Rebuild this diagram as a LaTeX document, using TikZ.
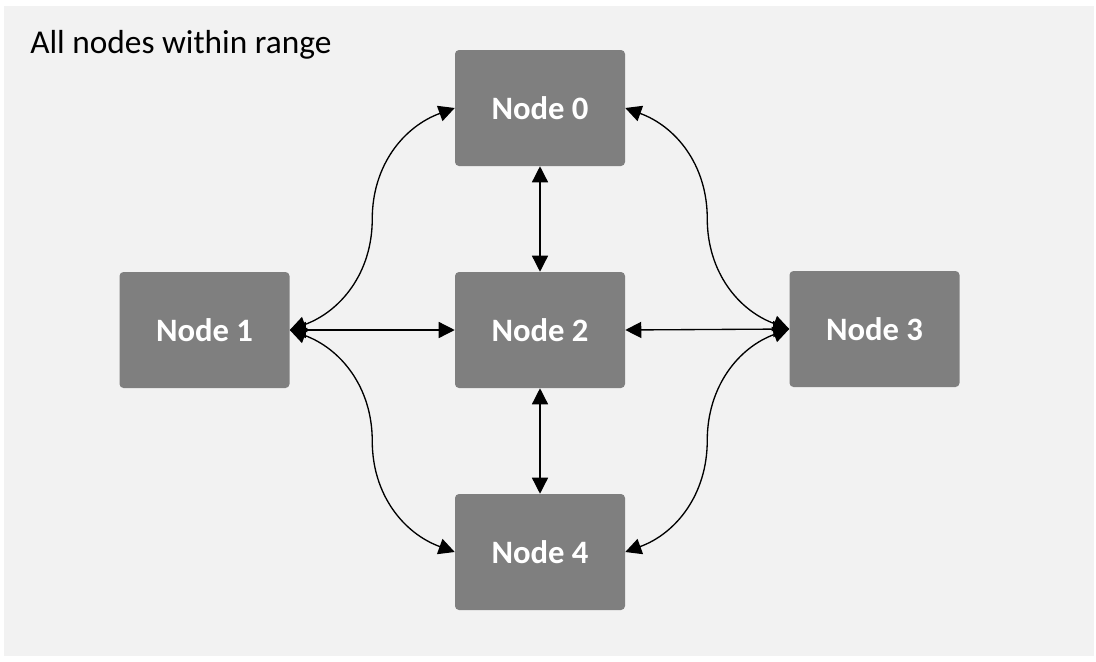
\documentclass[tikz,border=0pt]{standalone}
\usepackage{fontspec}
\setmainfont{Carlito}
\usepackage{xcolor}
\usetikzlibrary{arrows.meta,calc}

\definecolor{bggray}{HTML}{F2F2F2}
\definecolor{nodegray}{HTML}{7F7F7F}

\tikzset{
  netnode/.style={fill=nodegray, rounded corners=3pt, minimum width=127.5pt,
    minimum height=87pt, text=white, font=\fontsize{24.5}{29}\selectfont\bfseries},
  link/.style={line width=1pt,
    {Triangle[length=12pt,width=12pt]}-{Triangle[length=12pt,width=12pt]}},
}

\begin{document}
\begin{tikzpicture}[x=0.75pt, y=-0.75pt]
    \useasboundingbox (0,0) rectangle (1096,661);
    \fill[bggray] (4,6) rectangle (1094,656);

    \node [anchor=base west, inner sep=0pt, font=\fontsize{25}{30}\selectfont] (title) at (30,53) {All nodes within range};

    \node [netnode] (n0) at (540,108) {Node 0};
    \node [netnode] (n1) at (204.5,330) {Node 1};
    \node [netnode] (n2) at (540,330) {Node 2};
    \node [netnode] (n3) at (874.5,329) {Node 3};
    \node [netnode] (n4) at (540,552) {Node 4};

    % straight links
    \draw[link] (n1.east) -- (n2.west);
    \draw[link] (n2.east) -- (n3.west);
    \draw[link] (n0.south) -- (n2.north);
    \draw[link] (n2.south) -- (n4.north);

    % curved links
    \coordinate (m10) at ($(n1.east)!0.5!(n0.west)$);
    \coordinate (m14) at ($(n1.east)!0.5!(n4.west)$);
    \coordinate (m30) at ($(n3.west)!0.5!(n0.east)$);
    \coordinate (m34) at ($(n3.west)!0.5!(n4.east)$);

    \draw[link] (n1.east) to[out=20,in=270] (m10) to[out=90,in=200] (n0.west);
    \draw[link] (n1.east) to[out=-20,in=90] (m14) to[out=270,in=160] (n4.west);
    \draw[link] (n3.west) to[out=160,in=270] (m30) to[out=90,in=-20] (n0.east);
    \draw[link] (n3.west) to[out=200,in=90] (m34) to[out=270,in=20] (n4.east);

\end{tikzpicture}
\end{document}
